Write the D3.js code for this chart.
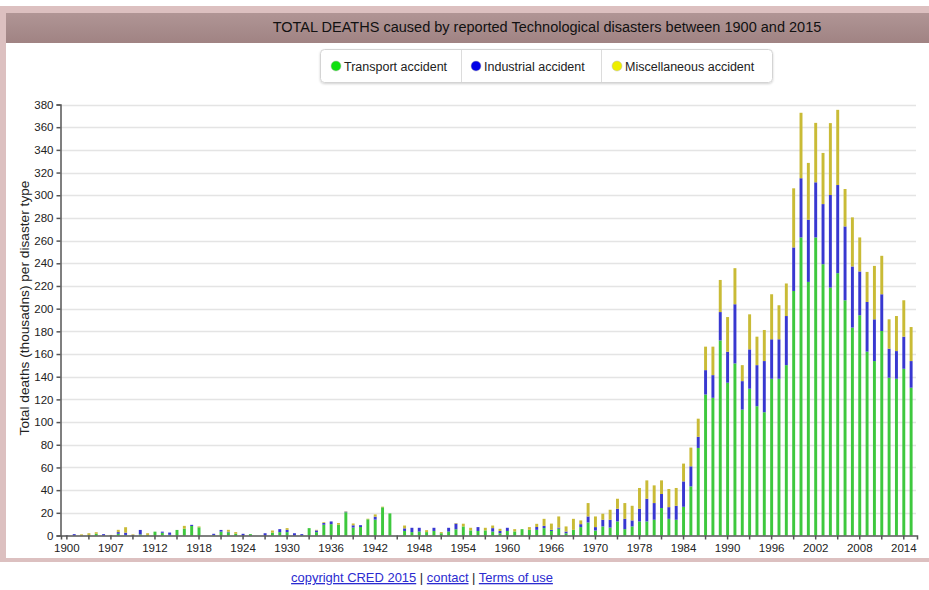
<!DOCTYPE html>
<html><head><meta charset="utf-8">
<script src="https://cdn.jsdelivr.net/npm/d3@7"></script>
<style>
body{margin:0;background:#fff;}
svg{display:block;font-family:"Liberation Sans",Arial,sans-serif;}
</style>
</head><body>
<svg id="c" width="929" height="590"></svg>
<script>
// ---------------- DATA ----------------
const years = ["1900","1901","1902","1903","1904","1905","1906","1907","1908","1909",
"1910","1911","1912","1913","1914","1915","1916","1917","1918","1919",
"1920","1921","1922","1923","1924","1925","1926","1927","1928","1929",
"1930","1931","1932","1933","1934","1935","1936","1937","1938","1939",
"1940","1941","1942","1943","1944","1945","1946","1947","1948","1949",
"1950","1951","1952","1953","1954","1955","1956","1957","1958","1959",
"1960","1961","1962","1963","1964","1965","1966","1967","1968","1969",
"1970","1971","1972","1973","1974","1975","1976","1977","1978","1979",
"1980","1981","1982","1983","1984","1985","1986","1987","1988","1989",
"1990","1991","1992","1993","1994","1995","1996","1997","1998","1999",
"2000","2001","2002","2003","2004","2005","2006","2007","2008","2009",
"2010","2011","2012","2013","2014","2015"];

const transport = [0,0,0,0.5,1.5,0,0,1.5,0.5,0,
1,0.5,3.4,2.4,0.6,4.9,6,8.4,7.2,0,
0.5,3.4,2.8,1.5,0,1.2,0,0,2.5,3,
3,0,0,6.5,3,9.5,10,9.5,20.5,7,
7.5,14.3,14,24.9,19.5,0,4,3,3.5,3,
4,2,3.5,5.5,8,4.5,4,4.5,3.5,2,
4,3.6,5.6,5,5,6.5,4,6,2,5,
7.4,11.5,4.4,8,7,12.4,5.6,8,12.4,12.4,
13.9,24.2,14.7,13.9,25.3,43.3,77.2,124.3,121.4,172,
134.7,151.7,111,129.4,114,108.7,138.2,138.2,150.2,215.6,
262.8,223.6,262.8,239.2,218.6,231.3,207.4,183.3,194.2,162.1,
153.8,180.3,139.1,138.2,147,130.3];

const industrial = [0.3,1.2,0,0,0,1.2,0,1.5,2,0.5,
3.9,0,0,1,2,0,0,1,0,0,
1,1.5,0.5,0,1.5,0,0,2,0,2.6,
2,2,1.2,0,1.5,1.5,2.4,0,0.5,2,
1.6,0,2.6,0,0,0,2.3,3.8,3.3,0,
2.8,0,3.3,5,0,0,3.4,0,3,2,
2.8,0,0,0,2.5,2,1,1,1.5,0,
2.6,5.3,3,5.9,6.9,11.2,9.1,5.3,11.2,20,
14.7,12.4,10.3,12.3,22.4,17.7,9.8,21.5,20,25,
27.3,52.2,25.1,34.7,36.2,45.1,34.8,34.8,43.3,38.4,
52.2,54.8,48.6,53,81.6,77.7,65.1,53.9,38.6,43.8,
36.8,32.4,25.6,24.4,28.3,23.5];

const miscellaneous = [0,0,1,1.5,1.4,0,0.5,2,4.8,0.5,
0,1.5,0,0,0,0,2.5,0,0.8,0,
0,0,1.7,1.5,0,0,0,0,1.9,0,
1.5,0,0,0,0.5,0.7,0,1.5,0.3,1.6,
0,0.5,2,0.5,0,0,2.5,0,0,1.7,
0,1,0,0.5,2.4,2.3,0,2.3,2.3,1.9,
0,2,0,2.4,2.8,6.2,5.5,9.8,4.5,9.7,
3.3,11.8,9.4,5.3,8.8,8.8,13.9,12.9,18.3,16.2,
15.6,12,16,15.7,15.7,16.5,16,20.7,25.1,28.3,
30.6,31.8,14.1,30.9,25.1,27.4,39.7,30,28.7,52.1,
57.7,50.1,52.4,45.1,63.4,66.3,33,43.3,30,26.5,
47.1,33.9,25.9,30.9,32.1,30];

const seriesNames = ["Transport accident","Industrial accident","Miscellaneous accident"];
const barColors = ["#3ec83e","#3838d0","#c9bb36"];
const dotColors = ["#10e010","#0000e6","#eeee00"];
const yTicks = [0,20,40,60,80,100,120,140,160,180,200,220,240,260,280,300,320,340,360,380];
const xTickLabels = ["1900","1907","1912","1918","1924","1930","1936","1942","1948","1954",
"1960","1966","1970","1978","1984","1990","1996","2002","2008","2014"];
const titleText = "TOTAL DEATHS caused by reported Technological disasters between 1900 and 2015";
const yTitle = "Total deaths (thousadns) per disaster type";

// ---------------- CHART ----------------
const svg = d3.select("#c");

function fit(sel, width){
  const fs = parseFloat(sel.attr("font-size"));
  const w = sel.node().getComputedTextLength();
  sel.attr("font-size", (fs*width/w).toFixed(2));
}

// frame
const defs = svg.append("defs");
const g1 = defs.append("linearGradient").attr("id","tb").attr("x1",0).attr("y1",0).attr("x2",0).attr("y2",1);
g1.append("stop").attr("offset","0%").attr("stop-color","#b09595");
g1.append("stop").attr("offset","100%").attr("stop-color","#a08383");
const sh = defs.append("filter").attr("id","sh").attr("x","-5%").attr("y","-20%").attr("width","110%").attr("height","150%");
sh.append("feDropShadow").attr("dx",0).attr("dy",1).attr("stdDeviation",1.2).attr("flood-color","#000").attr("flood-opacity",0.18);

svg.append("rect").attr("x",0).attr("y",6).attr("width",929).attr("height",556).attr("fill","#dcc0c0");
svg.append("rect").attr("x",6).attr("y",13).attr("width",923).attr("height",545).attr("fill","#fff");
svg.append("rect").attr("x",6).attr("y",13).attr("width",923).attr("height",30).attr("fill","url(#tb)");

const tt = svg.append("text").attr("x",547).attr("y",31.5).attr("text-anchor","middle")
  .attr("font-size",14).attr("fill","#111").text(titleText);
fit(tt, 549);

// legend
svg.append("rect").attr("x",320.5).attr("y",49.5).attr("width",452).attr("height",33).attr("rx",4)
  .attr("fill","#fff").attr("stroke","#d4d4d4").attr("filter","url(#sh)");
[461.5,601.5].forEach(xx=>svg.append("line").attr("x1",xx).attr("x2",xx).attr("y1",50).attr("y2",82).attr("stroke","#dcdcdc"));
const legX = [336,476,617];
seriesNames.forEach((n,i)=>{
  svg.append("circle").attr("cx",legX[i]).attr("cy",66).attr("r",5).attr("fill",dotColors[i]).attr("stroke","#bbb").attr("stroke-width",0.5);
  svg.append("text").attr("x",legX[i]+8).attr("y",70.5).attr("font-size",12.5).attr("fill","#222").text(n);
});

// scales
const x = d3.scaleBand().domain(years).range([61,917]).paddingInner(0.6).paddingOuter(0.6);
const y = d3.scaleLinear().domain([0,380]).range([535.5,104.5]);

// grid
svg.append("g").selectAll("line").data(yTicks.slice(1)).join("line")
  .attr("x1",60).attr("x2",916).attr("y1",d=>Math.round(y(d))+0.5).attr("y2",d=>Math.round(y(d))+0.5)
  .attr("stroke","#e4e4e4").attr("stroke-width",1.3);

// bars
const rows = years.map((yr,i)=>({year:yr, t:transport[i], ind:industrial[i], m:miscellaneous[i]}));
const stack = d3.stack().keys(["t","ind","m"])(rows);
svg.append("g").selectAll("g").data(stack).join("g").attr("fill",(d,i)=>barColors[i])
  .selectAll("rect").data(d=>d).join("rect")
  .attr("x",d=>x(d.data.year)).attr("width",x.bandwidth())
  .attr("y",d=>y(d[1])).attr("height",d=>Math.max(0,y(d[0])-y(d[1])));

// axes
const yAx = svg.append("g").attr("transform","translate(60.5,0)")
  .call(d3.axisLeft(y).tickValues(yTicks).tickSize(4).tickPadding(3));
const xTickVals = years.filter((d,i)=>i%3===0);
const xAx = svg.append("g").attr("transform","translate(0,535.5)")
  .call(d3.axisBottom(x).tickValues(xTickVals).tickSize(4).tickPadding(4)
    .tickFormat((d,i)=> i%2===0 ? xTickLabels[i/2] : ""));
[yAx,xAx].forEach(a=>{
  a.selectAll("path,line").attr("stroke","#555").attr("stroke-width",1.5);
  a.selectAll("text").attr("font-size",11.5).attr("fill","#222").attr("font-family","\"Liberation Sans\",Arial,sans-serif");
});

// y title
const yt = svg.append("text").attr("transform","translate(29,308) rotate(-90)").attr("text-anchor","middle")
  .attr("font-size",12).attr("fill","#222").text(yTitle);
fit(yt, 255);

// footer
const ft = svg.append("text").attr("x",422).attr("y",582).attr("text-anchor","middle").attr("font-size",12.5);
ft.append("tspan").attr("fill","#2b2bd0").attr("text-decoration","underline").text("copyright CRED 2015");
ft.append("tspan").attr("fill","#222").text(" | ");
ft.append("tspan").attr("fill","#2b2bd0").attr("text-decoration","underline").text("contact");
ft.append("tspan").attr("fill","#222").text(" | ");
ft.append("tspan").attr("fill","#2b2bd0").attr("text-decoration","underline").text("Terms of use");
fit(ft, 262);
</script>
</body></html>
